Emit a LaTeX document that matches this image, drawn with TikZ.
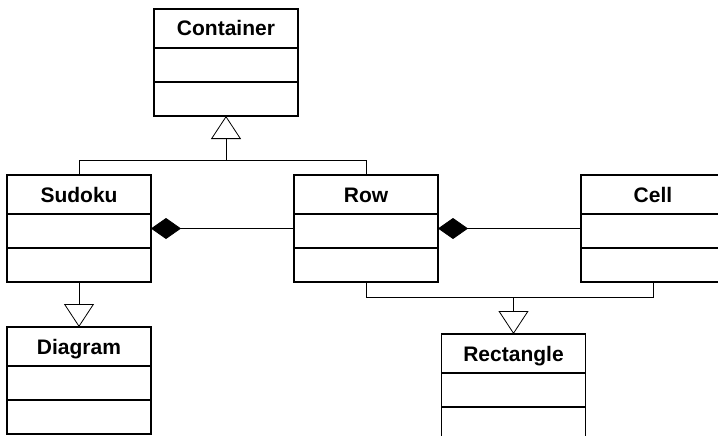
\documentclass[tikz,border=0pt]{standalone}
\usepackage{fontspec}
\setmainfont{Liberation Sans}
\usetikzlibrary{arrows.meta}

\tikzset{
  classbox/.style={draw, line width=1.3pt, minimum width=144pt, minimum height=107pt,
                   inner sep=0pt, outer sep=0pt},
  classtitle/.style={anchor=base, inner sep=0pt, font=\fontsize{21pt}{24pt}\selectfont\bfseries},
  divider/.style={line width=1.3pt},
  wire/.style={line width=0.8pt},
  inherit/.style={wire, -{Triangle[open, width=30pt, length=23pt, fill=white]}},
  composite/.style={wire, -{Diamond[width=21pt, length=30pt]}},
}

% a UML class: name, centre x, top y, title
\newcommand\umlclass[4]{%
  \node[classbox] (#1) at (#2,{#3-53.5}) {};
  \node[classtitle] (#1-title) at (#2,{#3-27}) {#4};
  \draw[divider] ([yshift=-39pt]#1.north west) -- ([yshift=-39pt]#1.north east);
  \draw[divider] ([yshift=-73pt]#1.north west) -- ([yshift=-73pt]#1.north east);
}

\begin{document}
\begin{tikzpicture}[x=1pt, y=1pt]
  \useasboundingbox (0,0) rectangle (718,-436);
  \clip (0,0) rectangle (718,-436);
  \fill[white] (0,0) rectangle (718,-436);

  \umlclass{container}{226}{-9}{Container}
  \umlclass{sudoku}{79}{-175}{Sudoku}
  \umlclass{row}{366}{-175}{Row}
  \umlclass{cell}{653}{-175}{Cell}
  \umlclass{diagram}{79}{-327}{Diagram}
  \umlclass{rectangle}{513.5}{-334}{Rectangle}

  % generalisation of Sudoku and Row into Container
  \coordinate (topjoin) at (226,-160);
  \draw[inherit] (sudoku.north) |- (topjoin) -- (container.south);
  \draw[wire] (row.north) |- (topjoin);

  % Sudoku is a Diagram
  \draw[inherit] (sudoku.south) -- (diagram.north);

  % Row and Cell are Rectangles
  \coordinate (lowjoin) at (513.5,-297.5);
  \draw[inherit] (row.south) |- (lowjoin) -- (rectangle.north);
  \draw[wire] (cell.south) |- (lowjoin);

  % compositions
  \draw[composite] (row.west) -- (sudoku.east);
  \draw[composite] (cell.west) -- (row.east);
\end{tikzpicture}
\end{document}
